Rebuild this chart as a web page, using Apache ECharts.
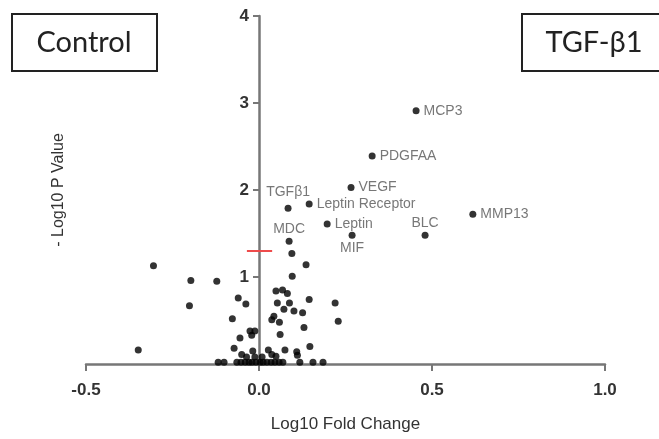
<!DOCTYPE html>
<html>
<head>
<meta charset="utf-8">
<script src="https://cdn.jsdelivr.net/npm/echarts@6/dist/echarts.min.js"></script>
<style>
  html, body { margin: 0; padding: 0; background: #fff; }
  #chart { width: 659px; height: 439px; }
</style>
</head>
<body>
<div id="chart"></div>
<script>
// labelled proteins
var labelNames = ['MCP3', 'PDGFAA', 'VEGF', 'Leptin Receptor', 'TGFβ1', 'Leptin', 'MIF', 'MDC', 'BLC', 'MMP13']
var labelX = [0.454, 0.327, 0.266, 0.145, 0.084, 0.197, 0.269, 0.087, 0.480, 0.618]
var labelY = [2.91, 2.39, 2.03, 1.84, 1.79, 1.61, 1.48, 1.41, 1.48, 1.72]

// the rest of the proteins
var otherX = [
  -0.305, -0.197, -0.122, -0.201, -0.349, 0.095, 0.136, 0.096, 0.049, 0.068,
  0.082, -0.060, -0.038, 0.053, 0.072, 0.088, 0.101, 0.126, 0.145, 0.220,
  -0.077, 0.037, 0.043, 0.059, 0.130, 0.229, -0.026, -0.012, -0.021, 0.061,
  -0.055, -0.072, 0.147, -0.050, -0.018, 0.027, 0.037, 0.075, 0.109, 0.111,
  -0.036, -0.012, 0.009, 0.049,
  -0.118, -0.101, -0.064, -0.052, -0.040, -0.029, -0.020, -0.009, 0.003, 0.012,
  0.023, 0.035, 0.046, 0.058, 0.069, 0.118, 0.156, 0.185
]
var otherY = [
  1.13, 0.96, 0.95, 0.67, 0.16, 1.27, 1.14, 1.01, 0.84, 0.85,
  0.81, 0.76, 0.69, 0.70, 0.63, 0.70, 0.61, 0.59, 0.74, 0.70,
  0.52, 0.51, 0.55, 0.48, 0.42, 0.49, 0.38, 0.38, 0.33, 0.34,
  0.30, 0.18, 0.20, 0.11, 0.15, 0.16, 0.11, 0.16, 0.14, 0.10,
  0.08, 0.08, 0.08, 0.09,
  0.02, 0.02, 0.02, 0.02, 0.02, 0.02, 0.02, 0.02, 0.02, 0.02,
  0.02, 0.02, 0.02, 0.02, 0.02, 0.02, 0.02, 0.02
]

// -log10(0.05) threshold mark
var thresholdY = 1.3
var thresholdX = [-0.035, 0.038]

var xTicks = [-0.5, 0.0, 0.5, 1.0]
var yTicks = [0, 1, 2, 3, 4]

var labelPos = {
  'TGFβ1': 'top', 'MIF': 'bottom', 'MDC': 'top', 'BLC': 'top'
}

var gridLeft = 86
var gridRight = 54
var plotW = 659 - gridLeft - gridRight
// y axis drawn where x = 0
var yAxisShift = plotW * (0 - xTicks[0]) / (xTicks[xTicks.length - 1] - xTicks[0])
var font = 'Liberation Sans, Arial, sans-serif'

var myChart = echarts.init(document.getElementById('chart'))

var labelled = labelNames.map(function (n, i) {
  var pos = labelPos[n] || 'right'
  return {
    name: n,
    value: [labelX[i], labelY[i]],
    label: { position: pos, distance: pos === 'right' ? 4 : (n === 'TGFβ1' ? 6 : 2) }
  }
})
var others = otherX.map(function (x, i) { return [x, otherY[i]] })

var option = {
  animation: false,
  grid: { left: gridLeft, right: gridRight, top: 16, bottom: 75, containLabel: false, outerBoundsMode: 'none' },
  xAxis: {
    type: 'value',
    min: xTicks[0],
    max: xTicks[xTicks.length - 1],
    interval: 0.5,
    name: 'Log10 Fold Change',
    nameLocation: 'middle',
    nameGap: 52,
    nameTextStyle: { fontFamily: font, fontSize: 17, color: '#333' },
    axisLine: { onZero: true, lineStyle: { color: '#777', width: 2.5 } },
    axisTick: { length: 7, lineStyle: { color: '#777', width: 2 } },
    axisLabel: {
      margin: 18,
      fontFamily: font,
      fontSize: 17,
      fontWeight: 'bold',
      color: '#333',
      formatter: function (v) { return v.toFixed(1) }
    },
    splitLine: { show: false }
  },
  yAxis: {
    type: 'value',
    min: yTicks[0],
    max: yTicks[yTicks.length - 1],
    interval: 1,
    offset: -yAxisShift,
    name: '- Log10 P Value',
    nameLocation: 'middle',
    nameGap: 192,
    nameTextStyle: { fontFamily: font, fontSize: 16, color: '#333' },
    axisLine: { onZero: false, lineStyle: { color: '#777', width: 2.5 } },
    axisTick: { length: 6, lineStyle: { color: '#777', width: 2 } },
    axisLabel: {
      margin: 10,
      showMinLabel: false,
      fontFamily: font,
      fontSize: 17,
      fontWeight: 'bold',
      color: '#333'
    },
    splitLine: { show: false }
  },
  graphic: [
    {
      type: 'rect',
      shape: { x: 12, y: 14, width: 145, height: 57 },
      style: { fill: '#fff', stroke: '#222', lineWidth: 2 }
    },
    {
      type: 'text',
      x: 84, y: 43,
      style: { text: 'Control', font: '29px Lato', fill: '#222', align: 'center', verticalAlign: 'middle' }
    },
    {
      type: 'rect',
      shape: { x: 522, y: 14, width: 150, height: 57 },
      style: { fill: '#fff', stroke: '#222', lineWidth: 2 }
    },
    {
      type: 'text',
      x: 594, y: 43,
      style: { text: 'TGF-β1', font: '29px Lato', fill: '#222', align: 'center', verticalAlign: 'middle' }
    }
  ],
  series: [
    {
      type: 'scatter',
      symbolSize: 7,
      itemStyle: { color: '#000' },
      data: others,
      markLine: {
        silent: true,
        symbol: 'none',
        label: { show: false },
        lineStyle: { color: '#ee4b4b', width: 2, type: 'solid' },
        data: [[{ coord: [thresholdX[0], thresholdY] }, { coord: [thresholdX[1], thresholdY] }]]
      }
    },
    {
      type: 'scatter',
      symbolSize: 7,
      itemStyle: { color: '#000' },
      label: {
        show: true,
        formatter: '{b}',
        fontFamily: font,
        fontSize: 14,
        color: '#555'
      },
      data: labelled
    }
  ]
}

myChart.setOption(option)
</script>
</body>
</html>
